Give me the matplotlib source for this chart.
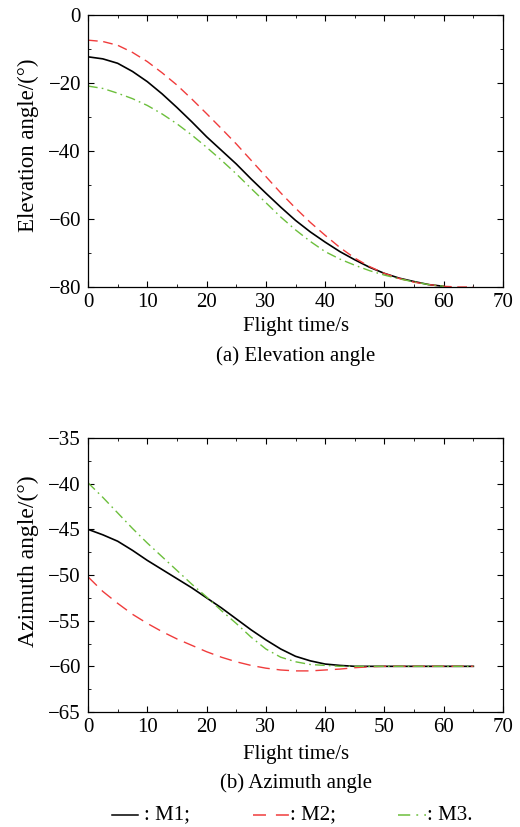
import numpy as np
import matplotlib
matplotlib.use("Agg")
import matplotlib.pyplot as plt
from matplotlib.lines import Line2D
from matplotlib.ticker import MultipleLocator

plt.rcParams["font.family"] = ["Liberation Serif", "DejaVu Serif"]
plt.rcParams["mathtext.fontset"] = "stix"

# elevation angle (a)
t_m1_el = np.arange(0, 60.1, 2.5)
m1_el = [-12.3, -12.9, -14.2, -16.6, -19.6, -23.2, -27.2, -31.4, -35.8, -39.8, -43.8, -48.2, -52.4,
         -56.5, -60.4, -63.8, -66.8, -69.6, -72.0, -74.2, -76.0, -77.4, -78.4, -79.3, -79.8]
t_m2_el = np.arange(0, 65.1, 2.5)
m2_el = [-7.4, -7.8, -8.9, -11.0, -13.7, -17.0, -20.6, -24.7, -29.0, -33.4, -37.9, -42.7, -47.5,
         -52.3, -56.8, -61.0, -64.8, -68.4, -71.5, -74.0, -76.0, -77.5, -78.6, -79.3, -79.8, -80.0, -80.0]
t_m3_el = np.arange(0, 60.1, 2.5)
m3_el = [-20.9, -21.6, -23.0, -24.6, -26.6, -29.1, -32.0, -35.3, -38.9, -42.7, -46.7, -51.0, -55.2,
         -59.4, -63.2, -66.6, -69.6, -71.8, -73.6, -75.2, -76.5, -77.6, -78.5, -79.3, -79.8]

# azimuth angle (b)
t_az = np.arange(0, 65.1, 2.5)
m1_az = [-45.0, -45.6, -46.3, -47.3, -48.4, -49.4, -50.4, -51.4, -52.5, -53.6, -54.8, -56.0, -57.1,
         -58.1, -58.9, -59.4, -59.75, -59.9, -60.0, -60.0, -60.0, -60.0, -60.0, -60.0, -60.0, -60.0, -60.0]
m2_az = [-50.2, -51.8, -53.1, -54.3, -55.3, -56.2, -57.0, -57.7, -58.4, -59.0, -59.5, -59.9, -60.2,
         -60.4, -60.5, -60.5, -60.4, -60.3, -60.15, -60.05, -60.0, -60.0, -60.0, -60.0, -60.0, -60.0, -60.0]
m3_az = [-39.9, -41.5, -43.2, -44.9, -46.5, -48.0, -49.5, -51.0, -52.4, -53.9, -55.3, -56.8, -58.1,
         -59.0, -59.5, -59.8, -59.9, -60.0, -60.0, -60.0, -60.0, -60.0, -60.0, -60.0, -60.0, -60.0, -60.0]

c_m1 = "black"
c_m2 = "#f03c3c"
c_m3 = "#6cbf3c"
ls_m2 = (0, (7, 4))
ls_m3 = (0, (7, 3, 1.2, 3))
fs = 15
W, H = 520, 827

fig = plt.figure(figsize=(5.2, 8.27), dpi=100)
ax1 = fig.add_axes([88 / W, 1 - 287 / H, 415 / W, 272 / H])
ax2 = fig.add_axes([88 / W, 1 - 712 / H, 415 / W, 274 / H])


def style(ax):
    ax.tick_params(which="both", direction="in", top=True, right=True, labelsize=fs)
    ax.tick_params(axis="x", pad=4)
    ax.tick_params(axis="y", pad=5)
    ax.tick_params(which="major", length=4)
    ax.tick_params(which="minor", length=2.5)
    ax.xaxis.set_major_locator(MultipleLocator(10))
    ax.xaxis.set_minor_locator(MultipleLocator(5))
    ax.set_xlim(0, 70)
    for s in ax.spines.values():
        s.set_linewidth(0.9)


def fig_text(x, y, s, **kw):
    fig.text(x / W, 1 - y / H, s, fontsize=fs, va="center", **kw)


ax1.plot(t_m1_el, m1_el, color=c_m1, lw=1.2)
ax1.plot(t_m2_el, m2_el, color=c_m2, lw=1.0, ls=ls_m2)
ax1.plot(t_m3_el, m3_el, color=c_m3, lw=1.0, ls=ls_m3)
style(ax1)
ax1.set_ylim(-80, 0)
ax1.yaxis.set_major_locator(MultipleLocator(20))
ax1.yaxis.set_minor_locator(MultipleLocator(10))
ax1.set_ylabel("Elevation angle/(°)", fontsize=16.5)
ax1.yaxis.set_label_coords(-49 / 415, 0.52)
fig_text(296, 327, "Flight time/s", ha="center")
fig_text(296, 356, "(a) Elevation angle", ha="center")

ax2.plot(t_az, m1_az, color=c_m1, lw=1.2)
ax2.plot(t_az, m2_az, color=c_m2, lw=1.0, ls=(0, (9, 5)))
ax2.plot(t_az, m3_az, color=c_m3, lw=1.0, ls=ls_m3)
style(ax2)
ax2.set_ylim(-65, -35)
ax2.yaxis.set_major_locator(MultipleLocator(5))
ax2.yaxis.set_minor_locator(MultipleLocator(2.5))
ax2.set_ylabel("Azimuth angle/(°)", fontsize=17)
ax2.yaxis.set_label_coords(-49 / 415, 0.55)
fig_text(296, 754, "Flight time/s", ha="center")
fig_text(296, 783, "(b) Azimuth angle", ha="center")

# legend row
y_leg = 815
entries = [(112, 138, c_m1, "-", ": M1;", 144),
           (253, 289, c_m2, (0, (8.5, 6.5)), ": M2;", 290),
           (398, 426, c_m3, (0, (8, 4, 1.2, 4)), ": M3.", 427)]
for x0, x1, c, ls, lab, xt in entries:
    fig.add_artist(Line2D([x0 / W, x1 / W], [1 - y_leg / H, 1 - y_leg / H], color=c, lw=1.1, ls=ls))
    fig_text(xt, y_leg, lab, ha="left")

fig.savefig("out.png", dpi=100)
